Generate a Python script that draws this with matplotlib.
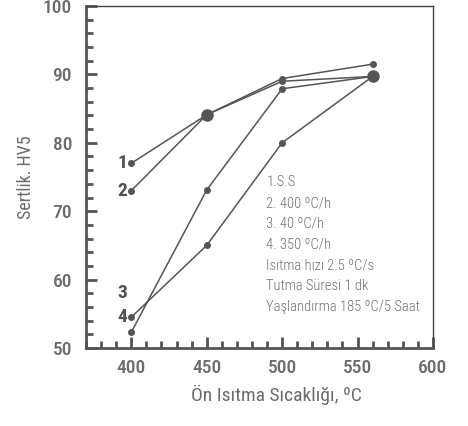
import numpy as np
import matplotlib
matplotlib.use('Agg')
import matplotlib.pyplot as plt
from matplotlib import font_manager
from matplotlib.ticker import MultipleLocator

# ─── DATA ───────────────────────────────────────────────────────────────────────
temps = [400, 450, 500, 560]
s1 = [77.0, 84.1, 89.4, 91.5]
s2 = [73.0, 84.1, 89.0, 89.7]
s3 = [52.3, 73.1, 87.9, 89.7]
s4 = [54.5, 65.0, 80.0, 89.7]
series = [s1, s2, s3, s4]
labels = ['1', '2', '3', '4']
label_y = [77.0, 73.0, 58.0, 54.5]
notes = ['1.S.S', '2. 400 ºC/h', '3. 40 ºC/h', '4. 350 ºC/h',
         'Isıtma hızı 2.5 ºC/s', 'Tutma Süresi 1 dk', 'Yaşlandırma 185 ºC/5 Saat']

# narrowest installed family
names = {f.name for f in font_manager.fontManager.ttflist}
prefs = ['Liberation Sans Narrow', 'DejaVu Sans Condensed', 'Roboto Condensed',
         'Open Sans Condensed', 'Noto Sans Condensed', 'Roboto', 'Noto Sans']
font = next((p for p in prefs if p in names), 'DejaVu Sans')
FONT = [font, 'DejaVu Sans']
TXT = '#6b6b6b'
LN = '#555555'

plt.rcParams['font.family'] = FONT

fig = plt.figure(figsize=(4.68, 4.26), dpi=100)
ax = fig.add_axes([86/468, 1-348/426, (433-86)/468, (348-6)/426])

for s in series:
    ax.plot(temps, s, '-', color=LN, linewidth=1.1, marker='o', markersize=4, zorder=3)

# points shared by several curves drawn bigger
pts = {}
for s in series:
    for x, y in zip(temps, s):
        pts[(x, y)] = pts.get((x, y), 0) + 1
for (x, y), c in pts.items():
    if c > 1:
        ax.plot(x, y, 'o', color=LN, markersize=8, zorder=4)

for lab, y in zip(labels, label_y):
    ax.annotate(lab, xy=(400, y), xytext=(-3, 0), textcoords='offset points',
                ha='right', va='center', fontsize=14, fontweight='bold', color='#505050')

ax.text(0.52, 0.505, '\n'.join(notes), transform=ax.transAxes, ha='left', va='top',
        fontsize=10.5, color='#707070', linespacing=1.62, fontweight='light')

ax.set_xlim(370, 600)
ax.set_ylim(50, 100)
ax.xaxis.set_major_locator(MultipleLocator(50))
ax.xaxis.set_minor_locator(MultipleLocator(10))
ax.yaxis.set_major_locator(MultipleLocator(10))
ax.yaxis.set_minor_locator(MultipleLocator(2))
ax.tick_params(which='major', direction='in', length=8, width=2, color=LN,
               labelsize=14, labelcolor=TXT, pad=10)
ax.tick_params(which='minor', direction='in', length=5, width=2, color=LN)
ax.tick_params(axis='x', which='major', pad=8)
for lbl in ax.get_xticklabels() + ax.get_yticklabels():
    lbl.set_fontweight('medium')

for side in ['left', 'bottom']:
    ax.spines[side].set_linewidth(2)
    ax.spines[side].set_color(LN)
for side in ['top', 'right']:
    ax.spines[side].set_linewidth(1)
    ax.spines[side].set_color('#444444')

ax.set_xlabel('Ön Isıtma Sıcaklığı, ºC', fontsize=14, color=TXT)
ax.xaxis.set_label_coords(0.55, -0.109)
ax.set_ylabel('Sertlik. HV5', fontsize=13, color=TXT)
ax.yaxis.set_label_coords(-0.146, 0.5)

plt.savefig('out.png', dpi=100)
